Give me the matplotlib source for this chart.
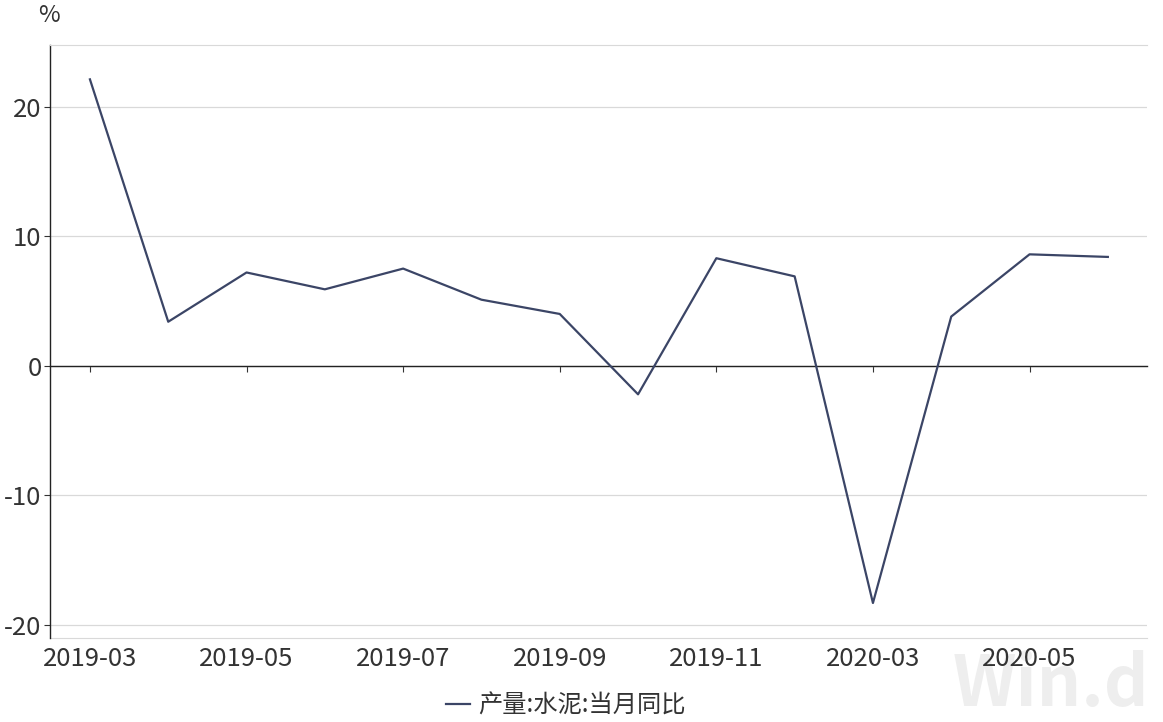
import numpy as np
import matplotlib
matplotlib.use("Agg")
import matplotlib.pyplot as plt
from matplotlib.ticker import FuncFormatter

plt.rcParams["font.family"] = ["Noto Sans CJK SC", "DejaVu Sans"]

# ── data ──────────────────────────────────────────────────────────────────────
months = ["2019-03", "2019-04", "2019-05", "2019-06", "2019-07", "2019-08",
          "2019-09", "2019-10", "2019-11", "2019-12", "2020-03", "2020-04",
          "2020-05", "2020-06"]
cement_yoy = [22.1, 3.4, 7.2, 5.9, 7.5, 5.1, 4.0, -2.2, 8.3, 6.9, -18.3, 3.8, 8.6, 8.4]
y_ticks = [-20, -10, 0, 10, 20]
series_name = "产量:水泥:当月同比"
# ──────────────────────────────────────────────────────────────────────────────

LINE_COLOR = "#3b4566"
GRID_COLOR = "#d9d9d9"
TEXT_COLOR = "#333333"

fig = plt.figure(figsize=(11.63, 7.22), dpi=100)
ax = fig.add_axes([50 / 1163, 1 - 638 / 722, 1097 / 1163, 593 / 722])

x = np.arange(len(months))
ax.plot(x, cement_yoy, color=LINE_COLOR, linewidth=1.6, label=series_name, zorder=3)

ax.set_xlim(-0.51, 13.5)
ax.set_ylim(-21, 24.75)

# y axis, plain hyphen as minus like the original
ax.set_yticks(y_ticks)
ax.yaxis.set_major_formatter(FuncFormatter(lambda v, _: f"{v:.0f}"))
ax.tick_params(axis="y", length=4, width=0.8, color="#333333",
               labelsize=18.5, labelcolor=TEXT_COLOR, pad=2)
ax.grid(axis="y", color=GRID_COLOR, linewidth=0.9)
ax.set_axisbelow(True)

# zero line carries the month tick marks
ax.spines["bottom"].set_position(("data", 0))
ax.spines["bottom"].set_color("#222222")
ax.spines["bottom"].set_linewidth(1.0)
label_idx = x[::2][:7]
ax.set_xticks(label_idx)
ax.set_xticklabels([])
ax.tick_params(axis="x", length=4, width=0.8, color="#333333")

ax.spines["left"].set_color("#222222")
ax.spines["left"].set_linewidth(1.0)
ax.spines["top"].set_color(GRID_COLOR)
ax.spines["right"].set_visible(False)

# month labels along the bottom edge
sec = ax.secondary_xaxis(0)
sec.set_xticks(label_idx)
sec.set_xticklabels([months[i] for i in label_idx])
sec.tick_params(axis="x", length=0, labelsize=18.5, labelcolor=TEXT_COLOR, pad=6)
sec.spines["bottom"].set_color(GRID_COLOR)

fig.text(49 / 1163, 1 - 16 / 722, "%", fontsize=17, color=TEXT_COLOR,
         ha="center", va="center")

fig.legend(loc="center", bbox_to_anchor=(566 / 1163, 1 - 706 / 722),
           frameon=False, fontsize=17.5, handlelength=1.0, handletextpad=0.35,
           labelcolor=TEXT_COLOR)

# faint watermark, kept behind everything
fig.text(953 / 1163, 1 - 686 / 722, "Win.d", fontsize=50, fontweight="bold",
         color="#eeeeee", ha="left", va="center", zorder=-1)

fig.savefig("out.png", dpi=100)
plt.close(fig)
